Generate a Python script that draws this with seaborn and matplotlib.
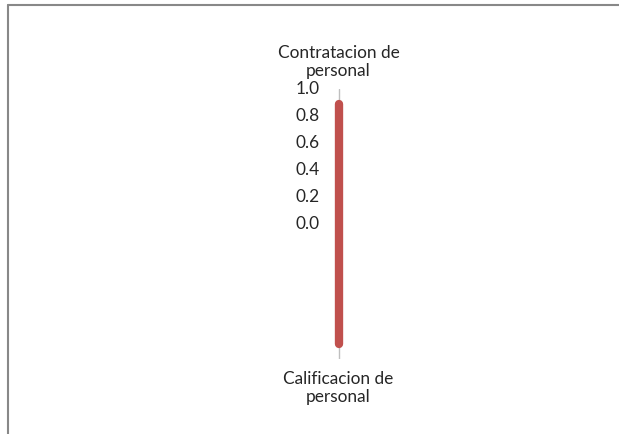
import numpy as np
import pandas as pd
import matplotlib
matplotlib.use("Agg")
import matplotlib.pyplot as plt
import matplotlib.transforms as mtransforms
import seaborn as sns

categories = ["Contratacion de\npersonal", "Calificacion de\npersonal"]
values = [0.89, 0.89]
radial_ticks = [0.0, 0.2, 0.4, 0.6, 0.8, 1.0]
tick_labels = ["0.0", "0.2", "0.4", "0.6", "0.8", "1.0"]

sns.set_theme(style="white")
plt.rcParams['font.family'] = ['Lato', 'DejaVu Sans']

W, H = 619, 434
fig = plt.figure(figsize=(W / 100, H / 100), dpi=100)
fig.patch.set_facecolor("white")

cx, cy, R = 338.5, 224, 135
ax = fig.add_axes([(cx - R) / W, (H - cy - R) / H, 2 * R / W, 2 * R / H], projection="polar")
ax.set_theta_zero_location("N")
ax.set_theta_direction(-1)

angles = np.linspace(0, 2 * np.pi, len(categories), endpoint=False)
df = pd.DataFrame({"angle": list(angles) + [angles[0]],
                   "value": values + [values[0]]})

# spokes
for a in angles:
    ax.plot([a, a], [0, 1.0], color="#BFBFBF", lw=1, zorder=1)

sns.lineplot(data=df, x="angle", y="value", sort=False, ax=ax, color="#C0504D",
             lw=6, solid_capstyle="round", zorder=3, legend=False)

ax.set_ylim(0, 1.0)
ax.set_xticks([])
ax.set_yticks([])
ax.grid(False)
ax.spines["polar"].set_visible(False)
ax.set_facecolor("none")
ax.set_xlabel("")
ax.set_ylabel("")

offset = mtransforms.ScaledTranslation(-19 / 100, 0, fig.dpi_scale_trans)
for t, lab in zip(radial_ticks, tick_labels):
    ax.text(0, t, lab, transform=ax.transData + offset, ha="right", va="center",
            fontsize=12.4, color="#262626")

# category labels
ax.text(angles[0], 1.0, categories[0], ha="center", va="bottom", fontsize=12.4,
        color="#262626", linespacing=1.12,
        transform=ax.transData + mtransforms.ScaledTranslation(0, 0.10, fig.dpi_scale_trans))
ax.text(angles[1], 1.0, categories[1], ha="center", va="top", fontsize=12.4,
        color="#262626", linespacing=1.12,
        transform=ax.transData + mtransforms.ScaledTranslation(0, -0.12, fig.dpi_scale_trans))

# outer frame (partially visible)
fig.add_artist(plt.Line2D([8 / W, 1], [1 - 5 / H, 1 - 5 / H], transform=fig.transFigure,
                          color="#888888", lw=1.5))
fig.add_artist(plt.Line2D([8 / W, 8 / W], [0, 1 - 5 / H], transform=fig.transFigure,
                          color="#888888", lw=1.5))

fig.savefig("out.png", dpi=100, facecolor="white")
